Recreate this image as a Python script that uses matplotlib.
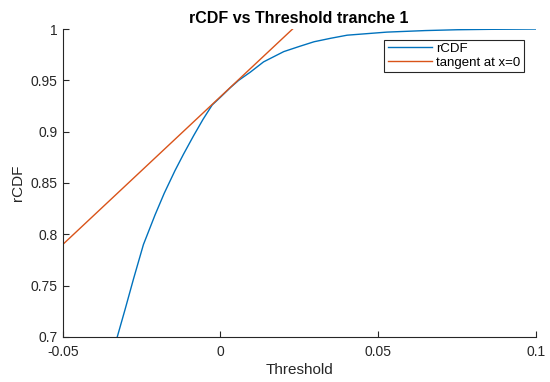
import matplotlib
matplotlib.use("Agg")
import matplotlib.pyplot as plt

# rCDF curve
threshold = [-0.0350, -0.0327, -0.0302, -0.0275, -0.0244, -0.0207, -0.0178, -0.0144,
             -0.0117, -0.0085, -0.0055, -0.0026, 0.0, 0.0032, 0.0058, 0.0095,
             0.0137, 0.0201, 0.0250, 0.0297, 0.0350, 0.0402, 0.0528, 0.0650,
             0.0750, 0.0850, 0.1000]
rcdf = [0.679, 0.700, 0.727, 0.757, 0.790, 0.819, 0.840, 0.862,
        0.878, 0.896, 0.912, 0.926, 0.9335, 0.943, 0.950, 0.958,
        0.968, 0.978, 0.983, 0.9876, 0.991, 0.994, 0.997, 0.9985,
        0.9993, 0.9997, 1.000]

# tangent at x=0 (end points)
tangent_x = [-0.05, 0.0229]
tangent_y = [0.790, 1.000]

xticks = [-0.05, 0, 0.05, 0.1]
xticklabels = ["-0.05", "0", "0.05", "0.1"]
yticks = [0.7, 0.75, 0.8, 0.85, 0.9, 0.95, 1.0]
yticklabels = ["0.7", "0.75", "0.8", "0.85", "0.9", "0.95", "1"]

plt.rcParams['font.family'] = ['Liberation Sans', 'DejaVu Sans']
axcol = "#262626"

fig = plt.figure(figsize=(5.5, 3.82), dpi=100)
ax = fig.add_axes([0.114, 0.118, 0.860, 0.806])

ax.plot(threshold, rcdf, color="#0072BD", lw=1.0, label="rCDF")
ax.plot(tangent_x, tangent_y, color="#D95319", lw=1.0, label="tangent at x=0")

ax.set_xlim(-0.05, 0.1)
ax.set_ylim(0.7, 1.0)
ax.set_xticks(xticks)
ax.set_xticklabels(xticklabels)
ax.set_yticks(yticks)
ax.set_yticklabels(yticklabels)

for s in ["top", "right"]:
    ax.spines[s].set_visible(False)
for s in ["left", "bottom"]:
    ax.spines[s].set_color(axcol)
    ax.spines[s].set_linewidth(0.8)
ax.tick_params(direction="in", length=4, width=0.8, colors=axcol,
               labelsize=10, labelcolor=axcol)
ax.tick_params(axis="x", pad=6)

ax.set_xlabel("Threshold", fontsize=11, color=axcol, labelpad=3)
ax.set_ylabel("rCDF", fontsize=11, color=axcol, labelpad=4)
ax.set_title("rCDF vs Threshold tranche 1", fontsize=11.5, fontweight="bold",
             color="black", pad=4)

leg = ax.legend(loc="upper right", bbox_to_anchor=(0.975, 0.966), fontsize=9.5,
                handlelength=3.4, handletextpad=0.3, borderpad=0.25,
                labelspacing=0.1, borderaxespad=0, fancybox=False, framealpha=1)
leg.get_frame().set_edgecolor(axcol)
leg.get_frame().set_linewidth(0.8)

fig.savefig("out.png", dpi=100)
